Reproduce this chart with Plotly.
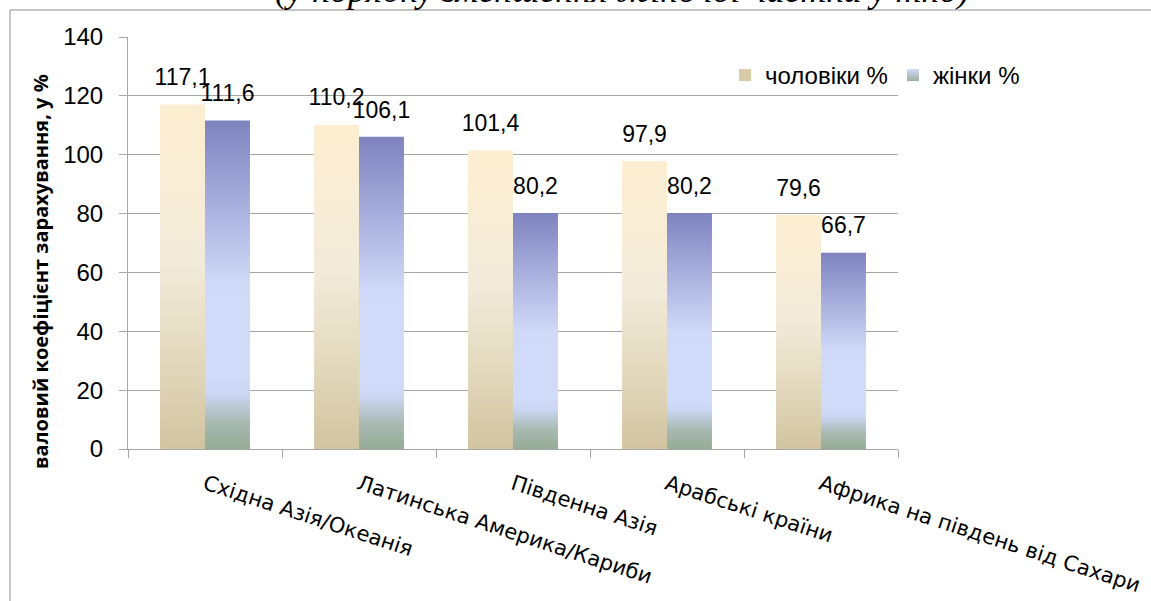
import plotly.graph_objects as go

# ---- data ----
categories = ["Східна Азія/Океанія", "Латинська Америка/Кариби", "Південна Азія",
              "Арабські країни", "Африка на південь від Сахари"]
men_values = [117.1, 110.2, 101.4, 97.9, 79.6]
women_values = [111.6, 106.1, 80.2, 80.2, 66.7]
series_names = ["чоловіки %", "жінки %"]
y_tick_values = [0, 20, 40, 60, 80, 100, 120, 140]
title_text = "(у порядку зменшення жіночої частки у тно)"
y_title_text = "валовий коефіцієнт зарахування, у %"

# ---- styling ----
W, H = 1151, 601
L, R, T, B = 128, 253, 37, 152
PW, PH = W - L - R, H - T - B
GRID = "#A6A6A6"
BAR_W = 0.292

men_scale = [[0.0, "#D2C4A0"], [0.3, "#E4DBC1"], [0.55, "#F2EBDA"], [1.0, "#FDEED1"]]
women_scale = [[0.0, "#95AB96"], [0.08, "#A8B9B2"], [0.17, "#CCD7F4"], [0.22, "#D1DBFA"],
               [0.5, "#D0D9F8"], [1.0, "#7E83BF"]]


def px_x(p):
    return (p - L) / PW


def px_y(p):
    return (H - B - p) / PH


fig = go.Figure()

idx = list(range(len(categories)))
series = [(men_values, men_scale, -1), (women_values, women_scale, 0)]

for vals, cs, side in series:
    for i, v in zip(idx, vals):
        x0 = i + side * BAR_W
        x1 = x0 + BAR_W
        fig.add_trace(go.Scatter(
            x=[x0, x0, x1, x1, x0], y=[0, v, v, 0, 0],
            mode="lines", line=dict(width=0), fill="toself",
            fillcolor=cs[-1][1],
            fillgradient=dict(type="vertical", colorscale=cs, start=0, stop=v),
            showlegend=False, hoverinfo="skip"))

# data labels
for vals, cs, side in series:
    fig.add_trace(go.Scatter(
        x=[i + side * BAR_W + BAR_W / 2 for i in idx], y=vals,
        mode="markers+text", marker=dict(size=20, opacity=0),
        texttemplate="%{y:.1f}", textposition="top center",
        textfont=dict(family="Liberation Sans", size=23, color="#000000"),
        showlegend=False, hoverinfo="skip", cliponaxis=False))

# legend entries
legend_colors = [("#D8CBA8", "#D8CBA8"), ("#D0DAF8", "#9CAF9C")]
for name, (c1, c2) in zip(series_names, legend_colors):
    fig.add_trace(go.Scatter(
        x=[None], y=[None], mode="markers", name=name,
        marker=dict(symbol="square", size=12, color=c1,
                    gradient=dict(type="vertical", color=c2),
                    line=dict(width=0))))

fig.update_layout(
    width=W, height=H,
    margin=dict(l=L, r=R, t=T, b=B, pad=0, autoexpand=False),
    paper_bgcolor="white", plot_bgcolor="white",
    font=dict(family="Liberation Sans", size=20, color="#000000"),
    separators=", ",
    showlegend=True,
    legend=dict(orientation="h", x=px_x(725), y=px_y(53), xanchor="left", yanchor="top",
                font=dict(family="Liberation Sans", size=24), bgcolor="rgba(0,0,0,0)",
                itemwidth=30, tracegroupgap=0),
    xaxis=dict(range=[-0.5, len(categories) - 0.5], tickmode="array", tickvals=idx,
               ticktext=categories, tickangle=18, ticks="", automargin=False,
               tickfont=dict(family="DejaVu Sans", size=21),
               showline=True, linecolor=GRID, linewidth=1, showgrid=False, zeroline=False,
               ticklabelstandoff=14,
               minor=dict(tickmode="array",
                          tickvals=[i + 0.5 for i in [-1] + idx],
                          ticks="outside", ticklen=8, tickcolor=GRID, showgrid=False)),
    yaxis=dict(range=[0, 140], tickmode="array", tickvals=y_tick_values,
               ticks="outside", ticklen=8, tickcolor=GRID, automargin=False,
               showline=True, linecolor=GRID, linewidth=1,
               showgrid=True, gridcolor=GRID, gridwidth=1, zeroline=False,
               tickfont=dict(family="Liberation Sans", size=24), ticklabelstandoff=11),
)

# y-axis title
fig.add_annotation(text="<b>" + y_title_text + "</b>", xref="paper", yref="paper",
                   x=px_x(40), y=px_y(272), xanchor="center", yanchor="middle",
                   textangle=-90, showarrow=False,
                   font=dict(family="Open Sans", size=20, color="#000000"))

# cut-off title at top
fig.add_annotation(text="<i>" + title_text + "</i>", xref="paper", yref="paper",
                   x=px_x(622), y=px_y(-10), xanchor="center", yanchor="middle",
                   showarrow=False,
                   font=dict(family="Liberation Serif", size=36, color="#000000"))

# chart-area border
fig.add_shape(type="rect", xref="paper", yref="paper",
              x0=px_x(10), y0=px_y(700), x1=px_x(1250), y1=px_y(10),
              line=dict(color="#8C8C8C", width=1), fillcolor="rgba(0,0,0,0)", layer="below")

fig.write_html("out.html", config={"displayModeBar": False},
               post_script="document.body.style.margin='0px';")
